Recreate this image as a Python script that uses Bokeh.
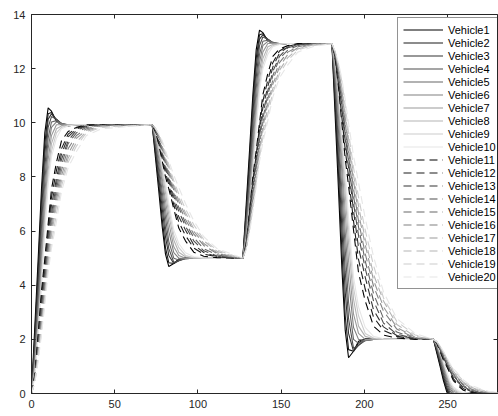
from bokeh.plotting import figure
from bokeh.models import LinearAxis, FixedTicker, Legend, LegendItem
from bokeh.embed import file_html
from bokeh.resources import INLINE

# time samples (s)
time = [0, 2, 4, 6, 8, 10, 12, 15, 18, 22, 27, 33, 42,
        72.5, 74.5, 76.5, 78.5, 80.5, 82.5, 85.5, 88.5, 92.5, 97.5, 103.5, 111.5, 122.5,
        127, 129, 131, 133, 135, 137, 139, 142, 145, 149, 154, 160, 169,
        180.5, 182.5, 184.5, 186.5, 188.5, 190.5, 193.5, 196.5, 200.5, 205.5, 211.5, 219.5, 230.5,
        241.5, 243.5, 245.5, 247.5, 249.5, 251.5, 253.5, 256.5, 259.5, 263.5, 268.5, 274.5, 283.5]

vehicle1 = [0, 2.48, 4.97, 7.55, 9.63, 10.55, 10.43, 10.05, 9.93, 9.89, 9.93, 9.93, 9.93,
            9.93, 8.70, 7.46, 6.18, 5.15, 4.69, 4.80, 4.97, 5.01, 5.0, 5.0, 5.0, 5.0,
            5.0, 6.98, 8.97, 11.03, 12.69, 13.42, 13.33, 13.03, 12.93, 12.90, 12.93, 12.93, 12.93,
            12.93, 10.20, 7.46, 4.62, 2.33, 1.32, 1.56, 1.93, 2.02, 2.0, 2.0, 2.0, 2.0,
            2.0, 1.5, 1.0, 0.48, 0.06, -0.12, -0.1, -0.02, 0, 0.01, 0, 0, 0]
vehicle2 = [0, 2.18, 4.57, 7.15, 9.23, 10.33, 10.38, 10.08, 9.93, 9.88, 9.93, 9.93, 9.93,
            9.93, 8.88, 7.74, 6.48, 5.39, 4.83, 4.80, 4.94, 5.01, 5.0, 5.0, 5.0, 5.0,
            5.0, 6.74, 8.65, 10.71, 12.37, 13.25, 13.29, 13.05, 12.93, 12.89, 12.93, 12.93, 12.93,
            12.93, 10.60, 8.07, 5.28, 2.87, 1.62, 1.56, 1.87, 2.02, 2.0, 2.0, 2.0, 2.0,
            2.0, 1.56, 1.08, 0.56, 0.14, -0.08, -0.09, -0.03, 0, 0.01, 0, 0, 0]
vehicle3 = [0, 1.89, 4.17, 6.65, 8.84, 10.13, 10.33, 10.13, 9.96, 9.90, 9.93, 9.93, 9.93,
            9.93, 9.04, 7.98, 6.85, 5.79, 5.10, 4.80, 4.90, 5.0, 5.01, 5.0, 5.0, 5.0,
            5.0, 6.51, 8.33, 10.31, 12.06, 13.09, 13.25, 13.09, 12.95, 12.91, 12.93, 12.93, 12.93,
            12.93, 10.96, 8.61, 6.10, 3.75, 2.22, 1.56, 1.78, 2.0, 2.02, 2.0, 2.0, 2.0,
            2.0, 1.62, 1.16, 0.66, 0.22, -0.04, -0.08, -0.04, -0.01, 0.01, 0, 0, 0]
vehicle4 = [0, 1.69, 3.77, 6.16, 8.34, 9.83, 10.23, 10.13, 9.98, 9.91, 9.93, 9.93, 9.93,
            9.93, 9.17, 8.23, 7.17, 6.13, 5.35, 4.85, 4.90, 4.98, 5.0, 5.0, 5.0, 5.0,
            5.0, 6.35, 8.01, 9.92, 11.66, 12.85, 13.17, 13.09, 12.97, 12.91, 12.93, 12.93, 12.93,
            12.93, 11.24, 9.16, 6.81, 4.51, 2.77, 1.67, 1.78, 1.96, 2.0, 2.0, 2.0, 2.0,
            2.0, 1.66, 1.24, 0.76, 0.32, 0.02, -0.06, -0.04, -0.01, 0, 0, 0, 0]
vehicle5 = [0, 1.39, 3.38, 5.66, 7.84, 9.43, 10.03, 10.08, 9.98, 9.93, 9.93, 9.93, 9.93,
            9.93, 9.31, 8.45, 7.46, 6.50, 5.62, 5.0, 4.93, 4.98, 5.0, 5.0, 5.0, 5.0,
            5.0, 6.11, 7.70, 9.52, 11.26, 12.53, 13.01, 13.05, 12.97, 12.93, 12.93, 12.93, 12.93,
            12.93, 11.56, 9.65, 7.46, 5.33, 3.37, 2.0, 1.85, 1.95, 2.0, 2.0, 2.0, 2.0,
            2.0, 1.72, 1.32, 0.86, 0.42, 0.10, -0.02, -0.03, -0.01, 0, 0, 0, 0]
vehicle6 = [0, 1.19, 2.98, 5.16, 7.35, 9.04, 9.83, 10.03, 9.96, 9.93, 9.93, 9.93, 9.93,
            9.93, 9.41, 8.67, 7.79, 6.80, 5.99, 5.20, 5.0, 4.98, 5.0, 5.0, 5.0, 5.0,
            5.0, 5.95, 7.38, 9.12, 10.87, 12.22, 12.85, 13.01, 12.95, 12.93, 12.93, 12.93, 12.93,
            12.93, 11.78, 10.14, 8.18, 5.99, 4.19, 2.44, 2.0, 1.96, 2.0, 2.0, 2.0, 2.0,
            2.0, 1.76, 1.40, 0.96, 0.52, 0.18, 0.02, -0.02, -0.01, 0, 0, 0, 0]
vehicle7 = [0, 0.99, 2.68, 4.77, 6.85, 8.64, 9.53, 9.93, 9.93, 9.93, 9.93, 9.93, 9.93,
            9.93, 9.51, 8.85, 7.98, 7.12, 6.31, 5.42, 5.10, 5.0, 5.0, 5.0, 5.0, 5.0,
            5.0, 5.79, 7.14, 8.81, 10.47, 11.90, 12.61, 12.93, 12.93, 12.93, 12.93, 12.93, 12.93,
            12.93, 12.0, 10.53, 8.61, 6.70, 4.90, 2.93, 2.22, 2.0, 2.0, 2.0, 2.0, 2.0,
            2.0, 1.80, 1.46, 1.04, 0.62, 0.26, 0.08, 0, 0, 0, 0, 0, 0]
vehicle8 = [0, 0.89, 2.48, 4.37, 6.45, 8.24, 9.23, 9.78, 9.88, 9.93, 9.93, 9.93, 9.93,
            9.93, 9.56, 8.97, 8.20, 7.42, 6.60, 5.67, 5.22, 5.05, 5.01, 5.0, 5.0, 5.0,
            5.0, 5.71, 6.98, 8.49, 10.15, 11.58, 12.37, 12.81, 12.89, 12.93, 12.93, 12.93, 12.93,
            12.93, 12.11, 10.80, 9.10, 7.36, 5.55, 3.48, 2.49, 2.11, 2.02, 2.0, 2.0, 2.0,
            2.0, 1.82, 1.50, 1.12, 0.70, 0.34, 0.14, 0.03, 0.01, 0, 0, 0, 0]
vehicle9 = [0, 0.70, 2.28, 4.17, 6.16, 7.94, 8.94, 9.63, 9.83, 9.91, 9.93, 9.93, 9.93,
            9.93, 9.66, 9.12, 8.35, 7.64, 6.85, 5.86, 5.39, 5.10, 5.02, 5.0, 5.0, 5.0,
            5.0, 5.56, 6.82, 8.33, 9.92, 11.34, 12.14, 12.69, 12.85, 12.91, 12.93, 12.93, 12.93,
            12.93, 12.33, 11.13, 9.43, 7.85, 6.10, 3.91, 2.87, 2.22, 2.05, 2.0, 2.0, 2.0,
            2.0, 1.86, 1.54, 1.16, 0.76, 0.40, 0.20, 0.06, 0.02, 0, 0, 0, 0]
vehicle10 = [0, 0.60, 2.18, 3.97, 5.96, 7.75, 8.74, 9.43, 9.78, 9.88, 9.93, 9.93, 9.93,
             9.93, 9.70, 9.17, 8.45, 7.81, 7.02, 6.04, 5.54, 5.20, 5.05, 5.01, 5.0, 5.0,
             5.0, 5.48, 6.74, 8.17, 9.76, 11.19, 11.98, 12.53, 12.81, 12.89, 12.93, 12.93, 12.93,
             12.93, 12.42, 11.24, 9.65, 8.23, 6.48, 4.30, 3.20, 2.44, 2.11, 2.02, 2.0, 2.0,
             2.0, 1.88, 1.56, 1.20, 0.80, 0.44, 0.24, 0.10, 0.03, 0.01, 0, 0, 0]
vehicle11 = [0, 0.70, 2.18, 3.77, 4.97, 6.26, 7.55, 8.54, 9.33, 9.68, 9.83, 9.93, 9.93,
             9.93, 9.66, 9.19, 8.60, 8.01, 7.56, 6.82, 6.11, 5.64, 5.22, 5.07, 5.02, 5.0,
             5.0, 5.56, 6.74, 8.01, 8.97, 10.0, 11.03, 11.82, 12.45, 12.73, 12.85, 12.93, 12.93,
             12.93, 12.34, 11.29, 9.98, 8.67, 7.68, 6.04, 4.46, 3.42, 2.49, 2.16, 2.05, 2.0,
             2.0, 1.86, 1.56, 1.24, 1.0, 0.74, 0.48, 0.28, 0.12, 0.05, 0.02, 0, 0]
vehicle12 = [0, 0.65, 2.09, 3.57, 4.77, 6.06, 7.25, 8.24, 9.04, 9.58, 9.81, 9.90, 9.93,
             9.93, 9.69, 9.24, 8.70, 8.16, 7.71, 6.97, 6.33, 5.84, 5.37, 5.15, 5.05, 5.01,
             5.0, 5.52, 6.67, 7.85, 8.81, 9.84, 10.79, 11.58, 12.22, 12.65, 12.83, 12.91, 12.93,
             12.93, 12.39, 11.40, 10.20, 9.0, 8.01, 6.37, 4.95, 3.86, 2.82, 2.33, 2.11, 2.02,
             2.0, 1.87, 1.58, 1.28, 1.04, 0.78, 0.54, 0.34, 0.18, 0.07, 0.02, 0.01, 0]
vehicle13 = [0, 0.60, 1.89, 3.38, 4.57, 5.86, 6.95, 7.94, 8.84, 9.48, 9.77, 9.88, 9.93,
             9.93, 9.71, 9.31, 8.85, 8.30, 7.86, 7.14, 6.53, 6.04, 5.49, 5.21, 5.06, 5.01,
             5.0, 5.48, 6.51, 7.70, 8.65, 9.68, 10.55, 11.34, 12.06, 12.57, 12.80, 12.89, 12.93,
             12.93, 12.45, 11.56, 10.53, 9.32, 8.34, 6.75, 5.39, 4.30, 3.09, 2.46, 2.14, 2.03,
             2.0, 1.88, 1.62, 1.32, 1.08, 0.82, 0.60, 0.40, 0.22, 0.09, 0.03, 0.01, 0]
vehicle14 = [0, 0.55, 1.79, 3.18, 4.37, 5.66, 6.65, 7.75, 8.64, 9.33, 9.73, 9.86, 9.93,
             9.93, 9.73, 9.39, 8.92, 8.40, 7.96, 7.27, 6.73, 6.18, 5.64, 5.27, 5.08, 5.01,
             5.0, 5.44, 6.43, 7.54, 8.49, 9.52, 10.31, 11.19, 11.90, 12.45, 12.77, 12.87, 12.93,
             12.93, 12.49, 11.73, 10.69, 9.54, 8.56, 7.03, 5.83, 4.62, 3.42, 2.60, 2.19, 2.03,
             2.0, 1.89, 1.64, 1.36, 1.12, 0.86, 0.66, 0.44, 0.26, 0.12, 0.04, 0.01, 0]
vehicle15 = [0, 0.50, 1.69, 2.98, 4.17, 5.46, 6.45, 7.55, 8.44, 9.23, 9.63, 9.83, 9.91,
             9.93, 9.75, 9.44, 8.99, 8.50, 8.06, 7.39, 6.87, 6.31, 5.76, 5.35, 5.12, 5.02,
             5.0, 5.40, 6.35, 7.38, 8.33, 9.36, 10.15, 11.03, 11.74, 12.37, 12.69, 12.85, 12.91,
             12.93, 12.54, 11.84, 10.85, 9.76, 8.78, 7.30, 6.15, 4.90, 3.69, 2.77, 2.27, 2.04,
             2.0, 1.90, 1.66, 1.40, 1.16, 0.90, 0.70, 0.48, 0.30, 0.14, 0.06, 0.02, 0]
vehicle16 = [0, 0.50, 1.59, 2.78, 3.97, 5.26, 6.26, 7.35, 8.24, 9.04, 9.53, 9.78, 9.90,
             9.93, 9.76, 9.46, 9.07, 8.60, 8.16, 7.51, 6.97, 6.43, 5.89, 5.47, 5.17, 5.02,
             5.0, 5.40, 6.27, 7.22, 8.17, 9.20, 10.0, 10.87, 11.58, 12.22, 12.61, 12.81, 12.91,
             12.93, 12.55, 11.89, 11.02, 9.98, 9.0, 7.57, 6.37, 5.17, 3.97, 3.04, 2.38, 2.05,
             2.0, 1.90, 1.68, 1.44, 1.20, 0.94, 0.74, 0.52, 0.34, 0.18, 0.08, 0.03, 0.01]
vehicle17 = [0, 0.45, 1.49, 2.58, 3.77, 5.06, 6.06, 7.15, 8.04, 8.84, 9.43, 9.73, 9.88,
             9.93, 9.78, 9.51, 9.14, 8.70, 8.25, 7.64, 7.10, 6.58, 5.99, 5.54, 5.20, 5.03,
             5.0, 5.36, 6.19, 7.06, 8.01, 9.04, 9.84, 10.71, 11.42, 12.06, 12.53, 12.77, 12.89,
             12.93, 12.59, 12.0, 11.18, 10.20, 9.21, 7.85, 6.65, 5.50, 4.19, 3.20, 2.44, 2.08,
             2.0, 1.91, 1.70, 1.48, 1.24, 0.98, 0.78, 0.56, 0.38, 0.22, 0.10, 0.04, 0.01]
vehicle18 = [0, 0.45, 1.39, 2.48, 3.57, 4.87, 5.86, 6.95, 7.84, 8.69, 9.28, 9.68, 9.86,
             9.93, 9.78, 9.54, 9.19, 8.77, 8.35, 7.74, 7.22, 6.68, 6.08, 5.64, 5.25, 5.05,
             5.0, 5.36, 6.11, 6.98, 7.85, 8.89, 9.68, 10.55, 11.26, 11.94, 12.41, 12.73, 12.87,
             12.93, 12.59, 12.06, 11.29, 10.36, 9.43, 8.07, 6.92, 5.72, 4.40, 3.42, 2.55, 2.11,
             2.0, 1.91, 1.72, 1.50, 1.28, 1.02, 0.82, 0.60, 0.42, 0.25, 0.13, 0.05, 0.01]
vehicle19 = [0, 0.40, 1.29, 2.28, 3.48, 4.67, 5.56, 6.65, 7.65, 8.54, 9.14, 9.63, 9.83,
             9.93, 9.80, 9.58, 9.29, 8.89, 8.45, 7.86, 7.37, 6.82, 6.23, 5.69, 5.30, 5.07,
             5.0, 5.32, 6.03, 6.82, 7.78, 8.73, 9.44, 10.31, 11.11, 11.82, 12.30, 12.69, 12.85,
             12.93, 12.63, 12.16, 11.51, 10.63, 9.65, 8.34, 7.25, 6.04, 4.73, 3.53, 2.66, 2.16,
             2.0, 1.92, 1.74, 1.54, 1.30, 1.06, 0.88, 0.66, 0.46, 0.28, 0.16, 0.06, 0.02]
vehicle20 = [0, 0.40, 1.19, 2.18, 3.28, 4.47, 5.36, 6.36, 7.45, 8.34, 8.94, 9.53, 9.78,
             9.93, 9.80, 9.60, 9.34, 8.99, 8.60, 8.06, 7.61, 7.02, 6.38, 5.79, 5.35, 5.10,
             5.0, 5.32, 5.95, 6.74, 7.62, 8.57, 9.28, 10.08, 10.95, 11.66, 12.14, 12.61, 12.81,
             12.93, 12.63, 12.20, 11.62, 10.85, 9.98, 8.78, 7.79, 6.48, 5.06, 3.75, 2.77, 2.22,
             2.0, 1.92, 1.76, 1.56, 1.34, 1.10, 0.92, 0.72, 0.50, 0.32, 0.20, 0.08, 0.03]

speeds = [vehicle1, vehicle2, vehicle3, vehicle4, vehicle5, vehicle6, vehicle7,
          vehicle8, vehicle9, vehicle10, vehicle11, vehicle12, vehicle13, vehicle14,
          vehicle15, vehicle16, vehicle17, vehicle18, vehicle19, vehicle20]
names = ["Vehicle%d" % (i + 1) for i in range(20)]
x_ticks = [0, 50, 100, 150, 200, 250]
y_ticks = [0, 2, 4, 6, 8, 10, 12, 14]

greys = ["#000000", "#1a1a1a", "#333333", "#4d4d4d", "#666666",
         "#808080", "#999999", "#b3b3b3", "#cccccc", "#e6e6e6"]

FONT = "Liberation Sans"
AX = "#262626"

p = figure(width=498, height=416, x_range=(0, 280), y_range=(0, 14),
           output_backend="svg", toolbar_location=None,
           min_border_left=31, min_border_right=1, min_border_top=14, min_border_bottom=23)
p.xgrid.visible = False
p.ygrid.visible = False
p.outline_line_color = AX
p.outline_line_width = 1
p.background_fill_color = "white"
p.border_fill_color = "white"

for ax, ticks in ((p.xaxis[0], x_ticks), (p.yaxis[0], y_ticks)):
    ax.ticker = FixedTicker(ticks=ticks)
    ax.major_tick_in = 4
    ax.major_tick_out = 0
    ax.minor_tick_in = 0
    ax.minor_tick_out = 0
    ax.axis_line_color = AX
    ax.major_tick_line_color = AX
    ax.major_label_text_font = FONT
    ax.major_label_text_font_size = "11px"
    ax.major_label_text_color = AX
    ax.major_label_standoff = 6

for loc, ticks in (("above", x_ticks), ("right", y_ticks)):
    ax = LinearAxis(ticker=FixedTicker(ticks=ticks),
                    major_label_overrides={t: "" for t in ticks},
                    major_label_text_font_size="0px", major_label_standoff=0,
                    major_tick_in=4, major_tick_out=0, minor_tick_in=0, minor_tick_out=0,
                    axis_line_color=None, major_tick_line_color=AX)
    p.add_layout(ax, loc)

items = []
for i, (name, vals) in enumerate(zip(names, speeds)):
    r = p.line(time, vals, line_color=greys[i % 10], line_width=1.1,
               line_dash="solid" if i < 10 else "8 5")
    items.append(LegendItem(label=name, renderers=[r]))

legend = Legend(items=items, location=(366, 104),
                glyph_width=40, glyph_height=13, label_height=13, spacing=0,
                padding=5, margin=0, label_standoff=5,
                label_text_font=FONT, label_text_font_size="11px", label_text_color="#000000",
                border_line_color=AX, border_line_width=1,
                background_fill_color="white", background_fill_alpha=1)
p.add_layout(legend)

open("out.html", "w").write(file_html(p, INLINE))
